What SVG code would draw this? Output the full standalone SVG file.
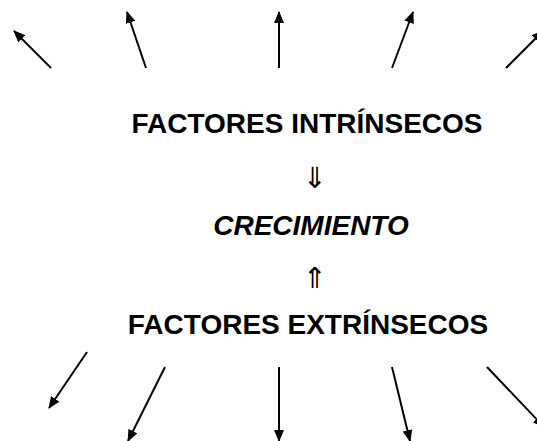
<svg xmlns="http://www.w3.org/2000/svg" width="537" height="441" viewBox="0 0 537 441">
<style>
.t{font-family:"Liberation Sans",Arial,sans-serif;font-weight:bold;fill:#000;text-anchor:middle}
.big{font-size:28px}
.it{font-style:italic}
.sym{font-family:"DejaVu Sans",sans-serif;font-size:29px;fill:#000;text-anchor:middle}
.ray{stroke:#000;stroke-width:2;fill:none;marker-end:url(#ah)}
</style>
<defs>
<marker id="ah" viewBox="0 0 12 10" refX="11" refY="5" markerWidth="12" markerHeight="10" markerUnits="userSpaceOnUse" orient="auto">
<path d="M0,0 L12,5 L0,10 z" fill="#000"/>
</marker>
</defs>
<rect width="537" height="441" fill="#fff"/>
<g id="intrinsecos"><text class="t big" x="307" y="133">FACTORES INTRÍNSECOS</text></g>
<g id="flecha-abajo"><text class="sym" x="315" y="188">⇓</text></g>
<g id="crecimiento"><text class="t big it" x="311" y="235">CRECIMIENTO</text></g>
<g id="flecha-arriba"><text class="sym" x="315" y="288">⇑</text></g>
<g id="extrinsecos"><text class="t big" x="308" y="334">FACTORES EXTRÍNSECOS</text></g>
<g id="connectors">
<line class="ray" x1="51" y1="68" x2="14" y2="31"/>
<line class="ray" x1="146" y1="68" x2="127" y2="12"/>
<line class="ray" x1="279" y1="68" x2="279" y2="12"/>
<line class="ray" x1="392" y1="68" x2="413" y2="12"/>
<line class="ray" x1="506" y1="68" x2="543" y2="31"/>
<line class="ray" x1="87" y1="352" x2="49" y2="408"/>
<line class="ray" x1="165" y1="367" x2="128" y2="441"/>
<line class="ray" x1="279" y1="367" x2="279" y2="441"/>
<line class="ray" x1="392" y1="367" x2="410" y2="441"/>
<line class="ray" x1="487" y1="367" x2="544" y2="427"/>
</g>
</svg>
